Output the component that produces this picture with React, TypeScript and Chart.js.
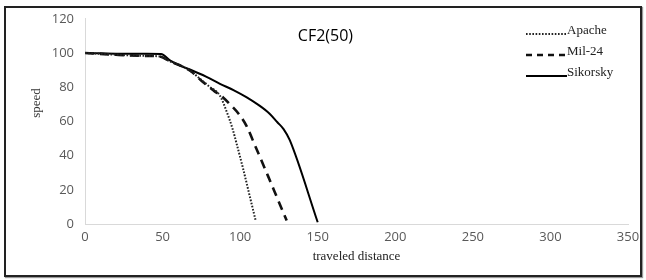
import React, { useEffect, useRef } from "react";
import { Chart, registerables } from "chart.js";

Chart.register(...registerables);

const TITLE = "CF2(50)";
const X_TITLE = "traveled distance";
const Y_TITLE = "speed";
const SERIES_NAMES = ["Apache", "Mil-24", "Sikorsky"];

const apacheX = [0, 20, 40, 48, 55, 62, 68, 74, 80, 87, 91, 95, 98, 102, 106, 110];
const apacheY = [100, 99, 98.3, 98, 95, 92.5, 89.5, 85, 80.5, 75, 66.5, 56, 46, 32, 17, 2];

const milX = [0, 20, 40, 48, 55, 62, 68, 76, 83, 89, 94, 99, 104, 110, 118, 124, 130];
const milY = [100, 99, 98.3, 98, 95, 92.5, 89.5, 83, 78, 74, 69.5, 64.5, 57.5, 45, 28, 15, 2];

const sikX = [0, 10, 20, 30, 40, 49, 55, 61, 68, 78, 87, 96, 104, 112, 119, 124, 128, 132, 150];
const sikY = [100, 99.8, 99.6, 99.5, 99.5, 99.4, 95.5, 92.7, 90.2, 86.2, 82, 78.2, 74.2, 69.5, 64.5, 59.5, 55.5, 49, 1];

const X_MIN = 0, X_MAX = 350, X_STEP = 50;
const Y_MIN = 0, Y_MAX = 120, Y_STEP = 20;

const toPts = (xs: number[], ys: number[]) => xs.map((x, i) => ({ x, y: ys[i] }));

export default function App() {
  const ref = useRef<HTMLCanvasElement | null>(null);

  useEffect(() => {
    document.body.style.margin = "0";
    const canvas = ref.current;
    if (!canvas) return;

    const overlay = {
      id: "overlay",
      afterDraw(chart: any) {
        const ctx = chart.ctx;
        ctx.save();
        ctx.font = '16px "Open Sans"';
        ctx.fillStyle = "#000";
        ctx.textAlign = "center";
        ctx.textBaseline = "middle";
        ctx.fillText(TITLE, chart.scales.x.getPixelForValue(155), 36);
        ctx.save();
        ctx.translate(37, 103);
        ctx.rotate(-Math.PI / 2);
        ctx.font = '13px "Liberation Serif"';
        ctx.fillStyle = "#333";
        ctx.fillText(Y_TITLE, 0, 0);
        ctx.restore();
        chart.data.datasets.forEach((ds: any, i: number) => {
          const y = 31 + i * 21;
          ctx.save();
          ctx.strokeStyle = ds.borderColor;
          ctx.lineWidth = ds.borderWidth;
          ctx.setLineDash(ds.legendDash || ds.borderDash || []);
          ctx.beginPath();
          ctx.moveTo(526, y + 3);
          ctx.lineTo(567, y + 3);
          ctx.stroke();
          ctx.restore();
          ctx.font = '13px "Liberation Serif"';
          ctx.fillStyle = "#222";
          ctx.textAlign = "left";
          ctx.textBaseline = "middle";
          ctx.fillText(ds.label, 567, y);
        });
        ctx.restore();
      },
    };

    const chart = new Chart(canvas, {
      type: "line",
      data: {
        datasets: [
          {
            label: SERIES_NAMES[0],
            data: toPts(apacheX, apacheY),
            borderColor: "#222",
            borderWidth: 2,
            borderDash: [1.6, 1.6],
            legendDash: [1.6, 1.6],
            pointRadius: 0,
            cubicInterpolationMode: "monotone",
          } as any,
          {
            label: SERIES_NAMES[1],
            data: toPts(milX, milY),
            borderColor: "#111",
            borderWidth: 2.6,
            borderDash: [9, 6],
            legendDash: [6, 5],
            pointRadius: 0,
            cubicInterpolationMode: "monotone",
          } as any,
          {
            label: SERIES_NAMES[2],
            data: toPts(sikX, sikY),
            borderColor: "#000",
            borderWidth: 2,
            pointRadius: 0,
            cubicInterpolationMode: "monotone",
          } as any,
        ],
      },
      options: {
        animation: false,
        responsive: false,
        maintainAspectRatio: false,
        layout: { padding: { left: 0, right: 18, top: 18, bottom: 16 } },
        plugins: { legend: { display: false }, tooltip: { enabled: false }, title: { display: false } },
        scales: {
          x: {
            type: "linear",
            min: X_MIN,
            max: X_MAX,
            ticks: { stepSize: X_STEP, color: "#595959", font: { family: "Open Sans", size: 13 }, padding: 5, maxRotation: 0 },
            grid: { display: false, drawTicks: false },
            border: { display: true, color: "#d9d9d9", width: 1 },
            title: { display: true, text: X_TITLE, color: "#222", font: { family: "Liberation Serif", size: 13 }, padding: { top: 0, bottom: 0 } },
            afterFit: (s: any) => { s.height = 40; },
          },
          y: {
            min: Y_MIN,
            max: Y_MAX,
            ticks: { stepSize: Y_STEP, color: "#595959", font: { family: "Open Sans", size: 13 }, padding: 11 },
            grid: { display: false, drawTicks: false },
            border: { display: true, color: "#d9d9d9", width: 1 },
            afterFit: (s: any) => { s.width = 85; },
          },
        },
      } as any,
      plugins: [overlay],
    });
    return () => chart.destroy();
  }, []);

  return (
    <div style={{ position: "relative", width: 646, height: 280, background: "#fff" }}>
      <div
        style={{
          position: "absolute",
          left: 4,
          top: 6,
          width: 634,
          height: 267,
          border: "2px solid #222",
          boxShadow: "1px 1px 1px #999",
        }}
      />
      <canvas ref={ref} width={646} height={280} style={{ position: "absolute", left: 0, top: 0, width: 646, height: 280 }} />
    </div>
  );
}
